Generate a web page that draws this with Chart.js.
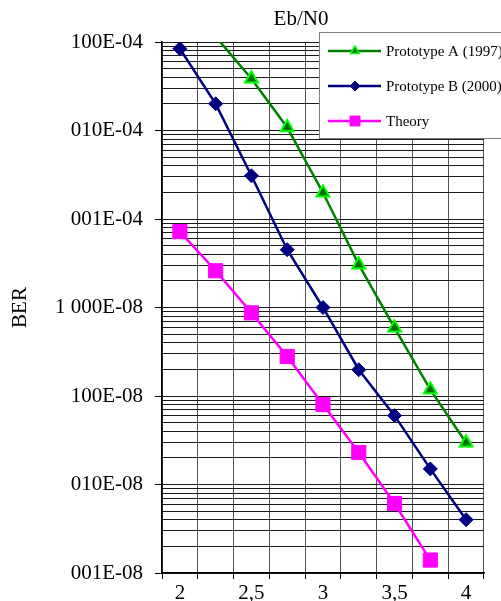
<!DOCTYPE html>
<html><head><meta charset="utf-8">
<script src="https://cdn.jsdelivr.net/npm/chart.js@4"></script>
<style>html,body{margin:0;padding:0;background:#fff}#wrap{width:501px;height:601px}</style>
</head><body><div id="wrap"><canvas id="c" width="501" height="601"></canvas></div>
<script>
const categories = [2, 2.25, 2.5, 2.75, 3, 3.25, 3.5, 3.75, 4];
const xTickLabels = ['2', '', '2,5', '', '3', '', '3,5', '', '4'];
const protoA = [null, 1.15e-2, 3.85e-3, 1.08e-3, 1.98e-4, 3.05e-5, 5.9e-6, 1.18e-6, 2.96e-7];
const protoB = [8.4e-3, 2.0e-3, 3.08e-4, 4.5e-5, 1.0e-5, 1.98e-6, 6.0e-7, 1.5e-7, 4.0e-8];
const theory = [7.2e-5, 2.6e-5, 8.7e-6, 2.8e-6, 8.0e-7, 2.3e-7, 6.1e-8, 1.4e-8, null];
const seriesNames = ['Prototype A (1997)', 'Prototype B (2000)', 'Theory'];
const yDecades = [1e-8, 1e-7, 1e-6, 1e-5, 1e-4, 1e-3, 1e-2];
const yTickLabels = ['001E-08', '010E-08', '100E-08', '1 000E-08', '001E-04', '010E-04', '100E-04'];
const chartTitle = 'Eb/N0';
const yTitle = 'BER';

const FONT = "'Liberation Serif', 'Times New Roman', serif";
const YMIN = 1e-8, YMAX = 1e-2;

function decadeIndex(v) {
  const e = Math.log10(v);
  if (Math.abs(e - Math.round(e)) < 1e-6) {
    return yDecades.findIndex(d => Math.abs(Math.log10(d) - e) < 1e-6);
  }
  return -1;
}

const titlePlugin = {
  id: 'topTitle',
  afterDraw(chart) {
    const ctx = chart.ctx;
    ctx.save();
    ctx.font = '21px ' + FONT;
    ctx.fillStyle = '#000';
    ctx.textAlign = 'center';
    ctx.textBaseline = 'middle';
    ctx.fillText(chartTitle, 301, 19);
    ctx.restore();
  }
};

const legendPlugin = {
  id: 'boxLegend',
  afterDraw(chart) {
    const ctx = chart.ctx;
    ctx.save();
    ctx.fillStyle = '#fff';
    ctx.strokeStyle = '#808080';
    ctx.lineWidth = 1;
    ctx.fillRect(319.5, 32.5, 200, 106);
    ctx.strokeRect(319.5, 32.5, 200, 106);
    const rows = [51, 86, 121];
    chart.data.datasets.forEach((ds, i) => {
      const y = rows[i];
      ctx.strokeStyle = ds.borderColor;
      ctx.lineWidth = 2.5;
      ctx.beginPath();
      ctx.moveTo(328, y);
      ctx.lineTo(381, y);
      ctx.stroke();
      ctx.fillStyle = ds.pointBackgroundColor;
      ctx.strokeStyle = ds.pointBorderColor;
      ctx.lineWidth = ds.legendBorder;
      Chart.helpers.drawPoint(ctx, {pointStyle: ds.pointStyle, radius: ds.legendRadius, borderWidth: ds.legendBorder, rotation: 0}, 355, y);
      ctx.fillStyle = '#000';
      ctx.font = '15px ' + FONT;
      ctx.textAlign = 'left';
      ctx.textBaseline = 'middle';
      ctx.fillText(ds.label, 386, y + 1);
    });
    ctx.restore();
  }
};

const hideOutside = ctx => (ctx.raw != null && ctx.raw > YMAX) ? 0 : undefined;

new Chart(document.getElementById('c'), {
  type: 'line',
  data: {
    labels: categories,
    datasets: [
      {
        label: seriesNames[0], data: protoA,
        borderColor: '#008000', borderWidth: 2.5,
        pointStyle: 'triangle',
        pointRadius: ctx => (ctx.raw != null && ctx.raw > YMAX) ? 0 : 7.5,
        pointBackgroundColor: '#007000', pointBorderColor: '#00ff00', pointBorderWidth: 2,
        legendRadius: 5, legendBorder: 1.5,
        clip: 0, tension: 0, spanGaps: false
      },
      {
        label: seriesNames[1], data: protoB,
        borderColor: '#000080', borderWidth: 2.5,
        pointStyle: 'rectRot', pointRadius: 7,
        pointBackgroundColor: '#000080', pointBorderColor: '#000080', pointBorderWidth: 1,
        legendRadius: 5, legendBorder: 1,
        clip: 0, tension: 0
      },
      {
        label: seriesNames[2], data: theory,
        borderColor: '#ff00ff', borderWidth: 2.5,
        pointStyle: 'rect', pointRadius: 10,
        pointBackgroundColor: '#ff00ff', pointBorderColor: '#ff00ff', pointBorderWidth: 1,
        legendRadius: 7, legendBorder: 1,
        clip: 0, tension: 0
      }
    ]
  },
  options: {
    responsive: false,
    animation: false,
    events: [],
    devicePixelRatio: 1,
    layout: { padding: { top: 42, right: 17, bottom: 0, left: 0 } },
    plugins: { legend: { display: false }, tooltip: { enabled: false }, title: { display: false } },
    scales: {
      x: {
        type: 'category',
        offset: true,
        afterFit(scale) { scale.height = 28; },
        grid: { offset: true, color: '#555', lineWidth: 1, drawTicks: true, tickLength: 6, tickColor: '#000' },
        border: { color: '#000', width: 1.5 },
        ticks: {
          autoSkip: false, maxRotation: 0, minRotation: 0, padding: 2,
          color: '#000', font: { family: FONT, size: 21 },
          callback: (v, i) => xTickLabels[i]
        }
      },
      y: {
        type: 'logarithmic',
        min: YMIN, max: YMAX,
        afterFit(scale) { scale.width = 162; },
        afterBuildTicks(scale) {
          const t = [];
          for (let k = 0; k < yDecades.length - 1; k++) {
            for (let s = 1; s <= 9; s++) t.push({ value: s * yDecades[k] });
          }
          t.push({ value: yDecades[yDecades.length - 1] });
          scale.ticks = t;
        },
        grid: {
          color: '#1a1a1a', lineWidth: 1, drawTicks: true, tickLength: 7,
          tickColor: ctx => (ctx.tick && decadeIndex(ctx.tick.value) >= 0) ? '#000' : 'rgba(0,0,0,0)'
        },
        border: { color: '#000', width: 1.5 },
        title: { display: true, text: yTitle, color: '#000', font: { family: FONT, size: 21 }, padding: { top: 8, bottom: 2 } },
        ticks: {
          autoSkip: false, padding: 12, color: '#000', font: { family: FONT, size: 21 },
          callback: v => { const i = decadeIndex(v); return i >= 0 ? yTickLabels[i] : ''; }
        }
      }
    }
  },
  plugins: [titlePlugin, legendPlugin]
});
</script>
</body></html>
